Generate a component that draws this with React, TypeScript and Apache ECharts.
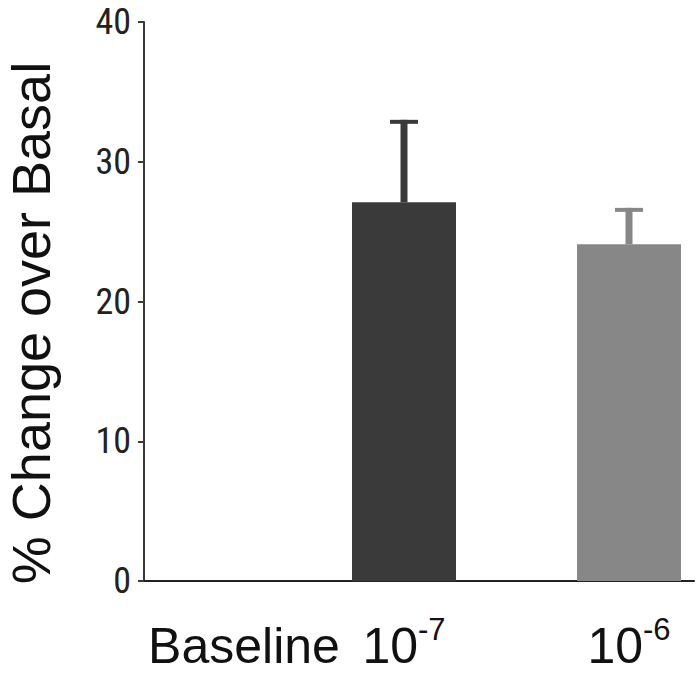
import React, { useEffect, useRef } from "react";
import * as echarts from "echarts";

// ---- data ----
const categories = ["Baseline", "10^-7", "10^-6"];
const meanValues = [0, 27.1, 24.1];
const errorValues = [0, 5.9, 2.6];
const yTicks = [0, 10, 20, 30, 40];

// ---- layout / style (not data) ----
const categoryPositions = [2.0, 5.2, 9.7];
const barColors = ["#3a3a3a", "#3a3a3a", "#878787"];
const NARROW =
  "'Liberation Sans Narrow', 'Noto Sans ExtraCondensed', 'Noto Sans Condensed', 'Roboto Condensed', 'Open Sans Condensed', 'DejaVu Sans Condensed', sans-serif";
const SANS = "'Liberation Sans', Arial, Helvetica, sans-serif";

function formatCategory(label: string) {
  const m = label.match(/^(.*)\^(.*)$/);
  if (m) return `{base|${m[1]}}{sup|${m[2]}}`;
  return `{base|${label}}`;
}

export default function App() {
  const ref = useRef<HTMLDivElement>(null);

  useEffect(() => {
    if (!ref.current) return;
    const chart = echarts.init(ref.current, null, { renderer: "svg" });

    const barData = categories.map((_, i) => ({
      value: [categoryPositions[i], meanValues[i]],
      itemStyle: { color: barColors[i] },
    }));
    const errData = categories.map((_, i) => [
      categoryPositions[i],
      meanValues[i],
      errorValues[i],
      i,
    ]);

    chart.setOption({
      animation: false,
      backgroundColor: "#ffffff",
      grid: { left: 144, right: 4, top: 22, bottom: 94, outerBoundsMode: "none", containLabel: false },
      xAxis: {
        type: "value",
        min: 0,
        max: 11,
        axisLine: { show: true, onZero: false, lineStyle: { color: "#222222", width: 2 } },
        axisTick: { show: false },
        splitLine: { show: false },
        axisLabel: {
          customValues: categoryPositions,
          margin: 33,
          formatter: (v: number) => {
            const i = categoryPositions.findIndex((p) => Math.abs(p - v) < 1e-6);
            return i >= 0 ? formatCategory(categories[i]) : "";
          },
          rich: {
            base: { fontFamily: SANS, fontSize: 50, color: "#111111", lineHeight: 64 },
            sup: { fontFamily: SANS, fontSize: 31, color: "#111111", lineHeight: 31, verticalAlign: "top" },
          },
        },
      },
      yAxis: {
        type: "value",
        min: yTicks[0],
        max: yTicks[yTicks.length - 1],
        interval: yTicks[1] - yTicks[0],
        name: "% Change over Basal",
        nameLocation: "middle",
        nameRotate: 90,
        nameGap: 88,
        nameTextStyle: {
          fontFamily: SANS,
          fontSize: 54,
          lineHeight: 50,
          color: "#111111",
          padding: [0, 43, 0, 0],
        },
        axisLine: { show: true, lineStyle: { color: "#3a3a3a", width: 2 } },
        axisTick: { show: true, length: 6, lineStyle: { color: "#3a3a3a", width: 2 } },
        splitLine: { show: false },
        axisLabel: { fontFamily: NARROW, fontSize: 36, color: "#222222", margin: 13 },
      },
      series: [
        {
          type: "bar",
          data: barData,
          barWidth: 104,
          z: 2,
        },
        {
          type: "custom",
          data: errData,
          z: 3,
          encode: { x: 0, y: 1 },
          renderItem: (params: any, api: any) => {
            const x = api.value(0);
            const y = api.value(1);
            const e = api.value(2);
            const idx = api.value(3);
            if (!e) return null;
            const base = api.coord([x, y]);
            const top = api.coord([x, y + e]);
            const color = barColors[idx];
            return {
              type: "group",
              children: [
                {
                  type: "line",
                  shape: { x1: base[0], y1: base[1], x2: top[0], y2: top[1] },
                  style: { stroke: color, lineWidth: 7 },
                },
                {
                  type: "line",
                  shape: { x1: top[0] - 14, y1: top[1] + 2, x2: top[0] + 14, y2: top[1] + 2 },
                  style: { stroke: color, lineWidth: 4 },
                },
              ],
            };
          },
        },
      ],
    });

    return () => chart.dispose();
  }, []);

  return (
    <div
      ref={ref}
      style={{ position: "absolute", left: 0, top: 0, width: 698, height: 675 }}
    />
  );
}
